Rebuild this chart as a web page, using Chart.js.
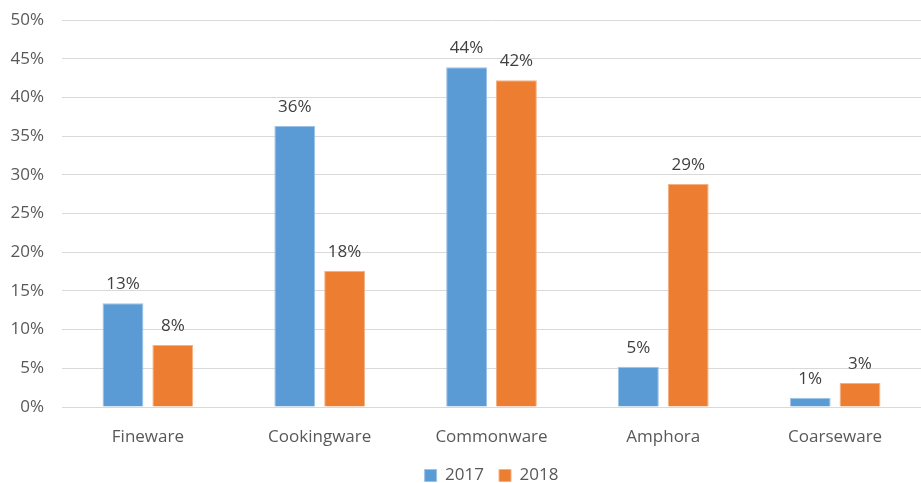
<!DOCTYPE html>
<html>
<head>
<meta charset="utf-8">
<script src="https://cdn.jsdelivr.net/npm/chart.js@4"></script>
<style>
  html, body { margin: 0; padding: 0; background: #fff; }
  #wrap { width: 921px; height: 483px; }
</style>
</head>
<body>
<div id="wrap"><canvas id="grafico"></canvas></div>
<script>
// Categorias e séries
const categorias = ['Fineware', 'Cookingware', 'Commonware', 'Amphora', 'Coarseware'];
const anos = ['2017', '2018'];
const valores2017 = [13.4, 36.3, 43.9, 5.2, 1.2];
const valores2018 = [8.0, 17.6, 42.2, 28.8, 3.1];
const ticksY = [0, 5, 10, 15, 20, 25, 30, 35, 40, 45, 50];

const fonte = '"Open Sans", "Noto Sans", sans-serif';

// Rótulos de valor acima das barras
const rotulosBarras = {
    id: 'rotulosBarras',
    afterDatasetsDraw(chart) {
        const ctx = chart.ctx;
        ctx.save();
        ctx.font = '17px ' + fonte;
        ctx.fillStyle = '#404040';
        ctx.textAlign = 'center';
        ctx.textBaseline = 'alphabetic';
        chart.data.datasets.forEach((ds, i) => {
            chart.getDatasetMeta(i).data.forEach((bar, j) => {
                ctx.fillText(Math.round(ds.data[j]) + '%', bar.x, bar.y - 14);
            });
        });
        ctx.restore();
    }
};

new Chart(document.getElementById('grafico'), {
    type: 'bar',
    data: {
        labels: categorias,
        datasets: [
            {
                label: anos[0],
                data: valores2017,
                backgroundColor: '#5B9BD5',
                borderColor: '#9DC3E6',
                borderWidth: 1
            },
            {
                label: anos[1],
                data: valores2018,
                backgroundColor: '#ED7D31',
                borderColor: '#F4B183',
                borderWidth: 1
            }
        ]
    },
    options: {
        responsive: true,
        maintainAspectRatio: false,
        animation: false,
        datasets: {
            bar: { categoryPercentage: 0.58, barPercentage: 0.82 }
        },
        layout: { padding: { top: 20, left: 0, right: 0, bottom: 0 } },
        plugins: {
            legend: {
                position: 'bottom',
                fullSize: false,
                maxHeight: 31,
                labels: {
                    boxWidth: 12,
                    boxHeight: 12,
                    padding: 15,
                    color: '#595959',
                    font: { family: fonte, size: 17 }
                }
            },
            tooltip: { enabled: false }
        },
        scales: {
            x: {
                grid: { display: false },
                border: { display: true, color: '#d9d9d9', width: 1 },
                afterFit(axis) { axis.height = 45; },
                ticks: {
                    color: '#595959',
                    padding: 12,
                    font: { family: fonte, size: 17 }
                }
            },
            y: {
                min: 0,
                max: 50,
                afterBuildTicks(axis) {
                    axis.ticks = ticksY.map(v => ({ value: v }));
                },
                afterFit(axis) {
                    axis.width = 62;
                    axis.paddingTop = 0;
                },
                grid: { color: '#d9d9d9', drawTicks: false },
                border: { display: false },
                ticks: {
                    color: '#595959',
                    padding: 18,
                    font: { family: fonte, size: 17 },
                    callback: v => v + '%'
                }
            }
        }
    },
    plugins: [rotulosBarras]
});
</script>
</body>
</html>
